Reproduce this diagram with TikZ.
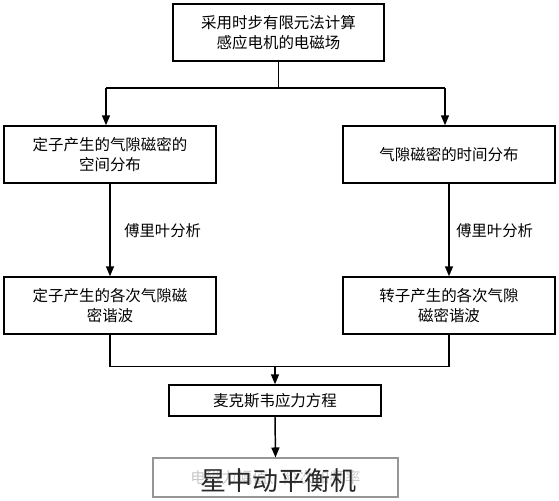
\documentclass[tikz,border=0pt]{standalone}
\usepackage{fontspec}
\usepackage{tikz}
\usetikzlibrary{positioning,arrows.meta,calc}
\newfontfamily\cjk{Noto Sans CJK SC}
\definecolor{fadegray}{RGB}{200,200,200}
\definecolor{edgegray}{RGB}{150,150,150}
\definecolor{markgray}{RGB}{40,40,40}
\tikzset{
  flowbox/.style={draw, line width=1.1pt, minimum width=159pt, minimum height=42.75pt,
    inner sep=0pt, align=center, font=\cjk\fontsize{11.6}{15.5}\selectfont},
  flowarrow/.style={line width=1.1pt, -{Triangle[length=7.5pt,width=6pt]}},
  flowline/.style={line width=1.1pt},
  sidetext/.style={inner sep=0pt, font=\cjk\fontsize{11.5}{14}\selectfont}
}

\begin{document}
\begin{tikzpicture}[x=0.75pt,y=0.75pt,yscale=-1,xscale=1]
  \useasboundingbox (0,0) rectangle (559,500);
  %Shape: Rectangle [top]
  \node [flowbox, minimum width=158.25pt] (fem) at (278.5,32.5) {采用时步有限元法计算\\感应电机的电磁场};
  %Shape: Rectangle [second row]
  \node [flowbox] (spaceL) at (110,154.5) {定子产生的气隙磁密的\\空间分布};
  \node [flowbox] (timeR) at (449,154.5) {气隙磁密的时间分布};
  %Shape: Rectangle [third row]
  \node [flowbox] (harmL) at (110,305.5) {定子产生的各次气隙磁\\密谐波};
  \node [flowbox] (harmR) at (449,305.5) {转子产生的各次气隙\\磁密谐波};
  %Shape: Rectangle [maxwell]
  \node [flowbox, minimum height=23.25pt] (maxwell) at (275,400.5) {麦克斯韦应力方程};
  %Shape: Rectangle [result]
  \node [draw=edgegray, line width=0.8pt, minimum width=183.75pt, minimum height=29.25pt, inner sep=0pt,
    text=fadegray, font=\cjk\fontsize{11.6}{14}\selectfont] (force) at (275.5,477.5) {电磁力幅值、阶次和频率};
  % Text Node
  \node [text=markgray, inner sep=0pt, font=\cjk\fontsize{19.5}{22}\selectfont] (mark) at (278,481) {星中动平衡机};
  % Text Node
  \node [sidetext, anchor=west] (fourierL) at (124,231) {傅里叶分析};
  \node [sidetext, anchor=west] (fourierR) at (456,231) {傅里叶分析};
  %Straight Lines
  \coordinate (splitL) at (106,88);
  \coordinate (splitR) at (445,88);
  \coordinate (merge) at (275,366.7);
  \draw [flowline] (fem.south) |- (splitL);
  \draw [flowline] (fem.south) |- (splitR);
  \draw [flowarrow] (splitL) -- (splitL |- spaceL.north);
  \draw [flowarrow] (splitR) -- (splitR |- timeR.north);
  \draw [flowarrow] (spaceL) -- (harmL);
  \draw [flowarrow] (timeR) -- (harmR);
  \draw [flowline] (harmL.south) |- (merge) -| (harmR.south);
  \draw [flowarrow] (merge) -- (maxwell.north);
  \draw [flowarrow] (maxwell.south) -- (force.north);
\end{tikzpicture}
\end{document}
